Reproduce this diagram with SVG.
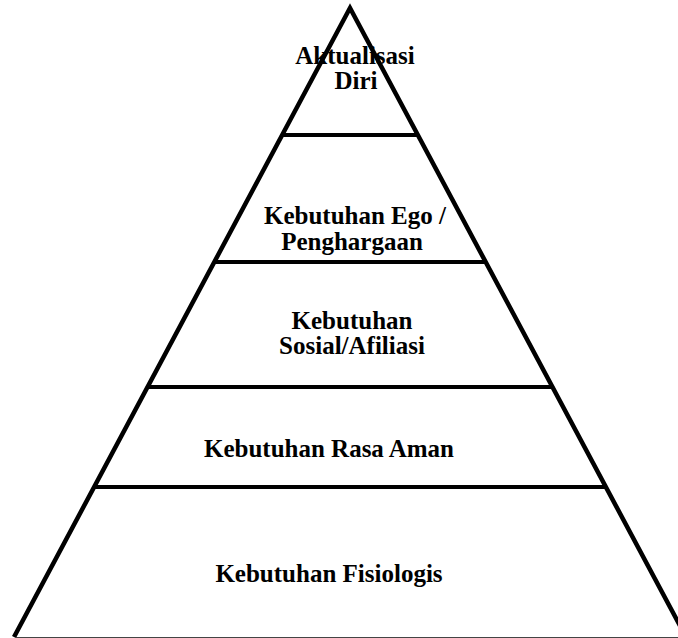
<svg xmlns="http://www.w3.org/2000/svg" width="678" height="638" viewBox="0 0 678 638">
<style>
.lbl{font-family:"Liberation Serif","Times New Roman",serif;font-weight:bold;font-size:25px;fill:#000;text-anchor:middle}
.edge{stroke:#000;stroke-width:4.5;fill:none}
.div{stroke:#000;stroke-width:4;fill:none}
</style>
<rect width="678" height="638" fill="#fff"/>
<g id="connectors">
<path class="edge" d="M14,637 L350,8 L686,637"/>
<line x1="15" y1="637.5" x2="678" y2="637.5" stroke="#444" stroke-width="1"/>
<line class="div" x1="282" y1="135" x2="418" y2="135"/>
<line class="div" x1="214" y1="262" x2="486" y2="262"/>
<line class="div" x1="147" y1="387" x2="553" y2="387"/>
<line class="div" x1="94" y1="487" x2="606" y2="487"/>
</g>
<g id="aktualisasi"><text class="lbl" x="355" y="64">Aktualisasi</text><text class="lbl" x="356" y="89">Diri</text></g>
<g id="ego"><text class="lbl" x="355" y="224">Kebutuhan Ego /</text><text class="lbl" x="352" y="250">Penghargaan</text></g>
<g id="sosial"><text class="lbl" x="352" y="329">Kebutuhan</text><text class="lbl" x="352" y="354">Sosial/Afiliasi</text></g>
<g id="aman"><text class="lbl" x="329" y="457">Kebutuhan Rasa Aman</text></g>
<g id="fisiologis"><text class="lbl" x="329" y="582">Kebutuhan Fisiologis</text></g>
</svg>
